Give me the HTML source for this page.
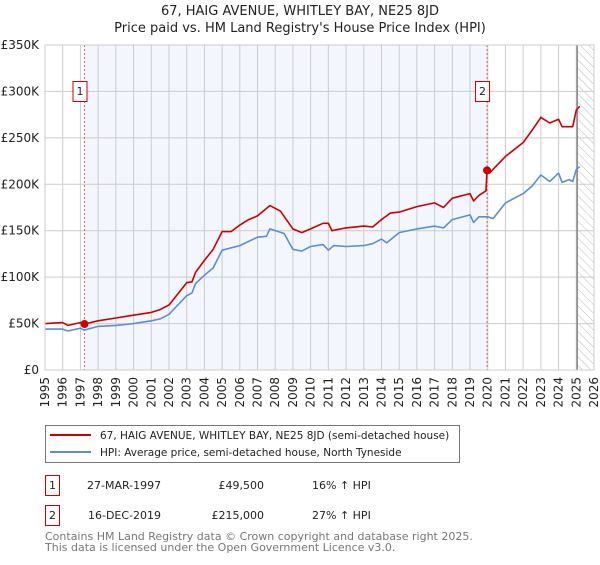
<!DOCTYPE html>
<html><head><meta charset="utf-8"><style>
body{margin:0;background:#fff;font-family:"Liberation Sans","DejaVu Sans",sans-serif;}
svg text{font-family:"DejaVu Sans","Liberation Sans",sans-serif;}
</style></head><body>
<svg id="c" width="600" height="560" xmlns="http://www.w3.org/2000/svg">
<defs><pattern id="hatch" width="6" height="6" patternUnits="userSpaceOnUse" patternTransform="rotate(-45)"><line x1="0" y1="0" x2="0" y2="6" stroke="#bbb" stroke-width="1"/></pattern></defs>
<text x="300" y="15" text-anchor="middle" font-size="13" fill="#222">67, HAIG AVENUE, WHITLEY BAY, NE25 8JD</text>
<text x="300" y="32" text-anchor="middle" font-size="13" fill="#222">Price paid vs. HM Land Registry's House Price Index (HPI)</text>
<g id="plot"></g>
<g>
<rect x="45.5" y="425.5" width="414" height="37" fill="#fff" stroke="#777"/>
<line x1="50" y1="435" x2="91" y2="435" stroke="#cc0000" stroke-width="2"/>
<text x="100" y="439" font-size="10.5" fill="#222">67, HAIG AVENUE, WHITLEY BAY, NE25 8JD (semi-detached house)</text>
<line x1="50" y1="452" x2="91" y2="452" stroke="#5b8fd0" stroke-width="2"/>
<text x="100" y="456" font-size="10.5" fill="#222">HPI: Average price, semi-detached house, North Tyneside</text>
</g>
<g font-size="11" fill="#222">
<rect x="45.5" y="475.5" width="14" height="20" fill="#fff" stroke="#cc0000"/>
<text x="52.5" y="489" text-anchor="middle">1</text>
<text x="87" y="489">27-MAR-1997</text>
<text x="264" y="489" text-anchor="end">£49,500</text>
<text x="312" y="489">16% ↑ HPI</text>
<rect x="45.5" y="505.5" width="14" height="20" fill="#fff" stroke="#cc0000"/>
<text x="52.5" y="519" text-anchor="middle">2</text>
<text x="88" y="519">16-DEC-2019</text>
<text x="264" y="519" text-anchor="end">£215,000</text>
<text x="312" y="519">27% ↑ HPI</text>
</g>
<text x="45" y="540" font-size="11" fill="#777">Contains HM Land Registry data © Crown copyright and database right 2025.</text>
<text x="45" y="551" font-size="11" fill="#777">This data is licensed under the Open Government Licence v3.0.</text>
</svg>
<script>
const hpiYears=[1995,1996,1996.3,1997,1997.2,1998,1999,2000,2001,2001.5,2002,2003,2003.3,2003.5,2004,2004.5,2005,2006,2007,2007.5,2007.7,2008.5,2009,2009.5,2010,2010.7,2011,2011.3,2012,2013,2013.5,2014,2014.3,2015,2016,2017,2017.5,2018,2019,2019.2,2019.5,2020,2020.3,2021,2022,2022.5,2023,2023.5,2024,2024.2,2024.6,2024.8,2025,2025.2];
const hpiValues=[44,44,42,45,43,47,48,50,53,55,60,80,83,93,102,110,129,134,143,144,152,147,130,128,133,135,129,134,133,134,136,141,137,148,152,155,153,162,167,159,165,165,163,180,190,198,210,203,212,202,205,203,216,219];
const ppYears=[1995,1996,1996.3,1997,1997.23,1998,1999,2000,2001,2001.5,2002,2003,2003.3,2003.5,2004,2004.5,2005,2005.5,2006,2006.5,2007,2007.7,2008.3,2009,2009.5,2010,2010.7,2011,2011.2,2012,2013,2013.5,2014,2014.5,2015,2016,2017,2017.5,2018,2019,2019.2,2019.5,2019.9,2019.96,2020.1,2021,2022,2022.5,2023,2023.5,2024,2024.2,2024.8,2025,2025.2];
const ppValues=[50,51,48,51,49.5,53,56,59,62,65,70,94,95,105,118,130,149,149,156,162,166,177,171,152,148,152,158,158,150,153,155,154,162,169,170,176,180,175,185,190,182,188,193,215,212,230,245,258,272,266,270,262,262,280,284];
const saleYears=[1997.23,2019.96];
const salePrices=[49.5,215];
const saleLabels=["1","2"];
const yTicks=[0,50,100,150,200,250,300,350];
const yTickLabels=["£0","£50K","£100K","£150K","£200K","£250K","£300K","£350K"];
const xTicks=[1995,1996,1997,1998,1999,2000,2001,2002,2003,2004,2005,2006,2007,2008,2009,2010,2011,2012,2013,2014,2015,2016,2017,2018,2019,2020,2021,2022,2023,2024,2025,2026];

const X0=45,X1=594,Y0=370,Y1=45;
const sx=y=>X0+(y-1995)/(2026-1995)*(X1-X0);
const sy=v=>Y0-v/350*(Y0-Y1);
const NS="http://www.w3.org/2000/svg";
const g=document.getElementById('plot');
function mk(t,a,p){const e=document.createElementNS(NS,t);for(const k in a)e.setAttribute(k,a[k]);(p||g).appendChild(e);return e;}
let r=mk('rect',{x:sx(saleYears[0]),y:Y1,width:sx(saleYears[1])-sx(saleYears[0]),height:Y0-Y1,fill:'#f3f6fd'});


r=mk('rect',{x:sx(2025.05),y:Y1,width:X1-sx(2025.05),height:Y0-Y1,fill:'url(#hatch)'});


xTicks.forEach(t=>{const l=mk('line',{x1:sx(t),x2:sx(t),y1:Y1,y2:Y0,stroke:'#ccc'});


const tx=mk('text',{x:0,y:0,'font-size':12,fill:'#222','text-anchor':'end',transform:`translate(${sx(t)+4},${Y0+7}) rotate(-90)`});tx.textContent=t;

});
yTicks.forEach((t,i)=>{const l=mk('line',{x1:X0,x2:X1,y1:sy(t),y2:sy(t),stroke:'#ccc'});


const tx=mk('text',{x:X0-6,y:sy(t)+4,'font-size':12,fill:'#222','text-anchor':'end'});tx.textContent=yTickLabels[i];

});
r=mk('line',{x1:sx(2025.05),x2:sx(2025.05),y1:Y1,y2:Y0,stroke:'#888','stroke-width':1.5});


saleYears.forEach((y,i)=>{const l=mk('line',{x1:sx(y),x2:sx(y),y1:Y1,y2:Y0,stroke:'#e06060','stroke-dasharray':'2,2'});

});
function path(xs,vs,col,name){const d=xs.map((x,i)=>(i?'L':'M')+sx(x).toFixed(1)+','+sy(vs[i]).toFixed(1)).join('');
const p=mk('path',{d:d,fill:'none',stroke:col,'stroke-width':1.6,'stroke-linejoin':'round'});

}
path(hpiYears,hpiValues,'#5b8fd0','hpi-line');
path(ppYears,ppValues,'#cc0000','price-paid-line');
saleYears.forEach((y,i)=>{const c=mk('circle',{cx:sx(y),cy:sy(salePrices[i]),r:4,fill:'#cc0000'});


const bx=sx(y)-11;
const b=mk('rect',{x:bx-0.5,y:81.5,width:14,height:20,fill:'#fff',stroke:'#cc0000'});


const t=mk('text',{x:bx+6.5,y:95,'font-size':11,fill:'#222','text-anchor':'middle'});t.textContent=saleLabels[i];

});
r=mk('rect',{x:X0,y:Y1,width:X1-X0,height:Y0-Y1,fill:'none',stroke:'#ccc'});


</script>
</body></html>
